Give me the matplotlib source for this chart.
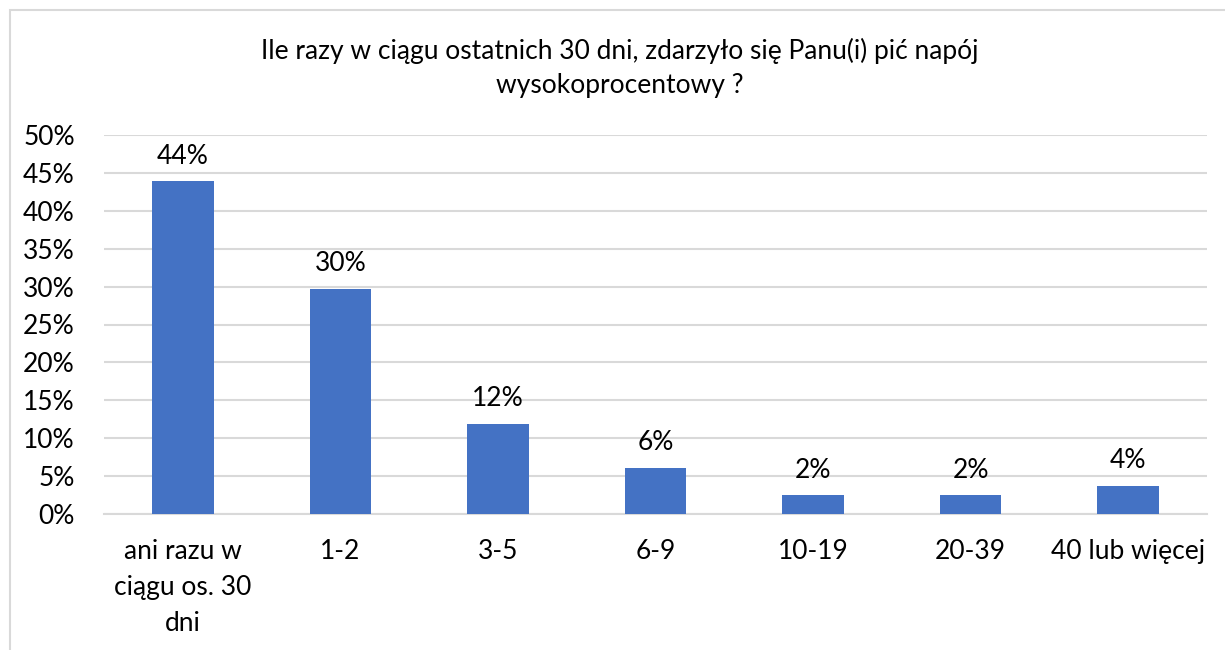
import matplotlib
matplotlib.use("Agg")
import matplotlib.pyplot as plt
from matplotlib.patches import Rectangle
from matplotlib.ticker import PercentFormatter

categories = ["ani razu w\nciągu os. 30\ndni", "1-2", "3-5", "6-9", "10-19", "20-39", "40 lub więcej"]
values = [43.9, 29.7, 11.9, 6.1, 2.5, 2.5, 3.7]
labels = ["44%", "30%", "12%", "6%", "2%", "2%", "4%"]
title = "Ile razy w ciągu ostatnich 30 dni, zdarzyło się Panu(i) pić napój\nwysokoprocentowy ?"

plt.rcParams['font.family'] = ['Lato', 'DejaVu Sans']
FS = 19

W, H = 1225, 650
fig = plt.figure(figsize=(W/100, H/100), dpi=100)
fig.patch.set_facecolor("white")

# outer chart border
fig.patches.append(Rectangle((10/W, -0.1), 1.2, (H-10)/H + 0.1, transform=fig.transFigure,
                             fill=False, edgecolor="#D9D9D9", linewidth=1.5))

left, right, bottom, top = 104, 1207, 514, 135
ax = fig.add_axes([left/W, 1-bottom/H, (right-left)/W, (bottom-top)/H])
x = range(len(categories))
bars = ax.bar(x, values, width=0.39, color="#4472C4", zorder=3)
ax.set_xlim(-0.5, len(categories)-0.5)
ax.set_ylim(0, 50)
ax.set_yticks(range(0, 51, 5))
ax.yaxis.set_major_formatter(PercentFormatter(decimals=0))
ax.grid(axis="y", color="#D9D9D9", linewidth=1.5, zorder=0)
for s in ["top", "right", "left"]:
    ax.spines[s].set_visible(False)
ax.spines["bottom"].set_color("#D9D9D9")
ax.spines["bottom"].set_linewidth(1.5)
ax.tick_params(axis="both", length=0, labelsize=FS, colors="black")
ax.tick_params(axis="y", pad=21)
ax.tick_params(axis="x", pad=18)
ax.set_xticks(list(x))
ax.set_xticklabels(categories, linespacing=1.55)

for b, lab in zip(bars, labels):
    ax.annotate(lab, (b.get_x()+b.get_width()/2, b.get_height()), xytext=(0, 9),
                textcoords="offset points", ha="center", va="bottom", fontsize=FS)

fig.text(620/W, 1-68/H, title, ha="center", va="center", fontsize=FS, linespacing=1.45)

fig.savefig("out.png", dpi=100)
